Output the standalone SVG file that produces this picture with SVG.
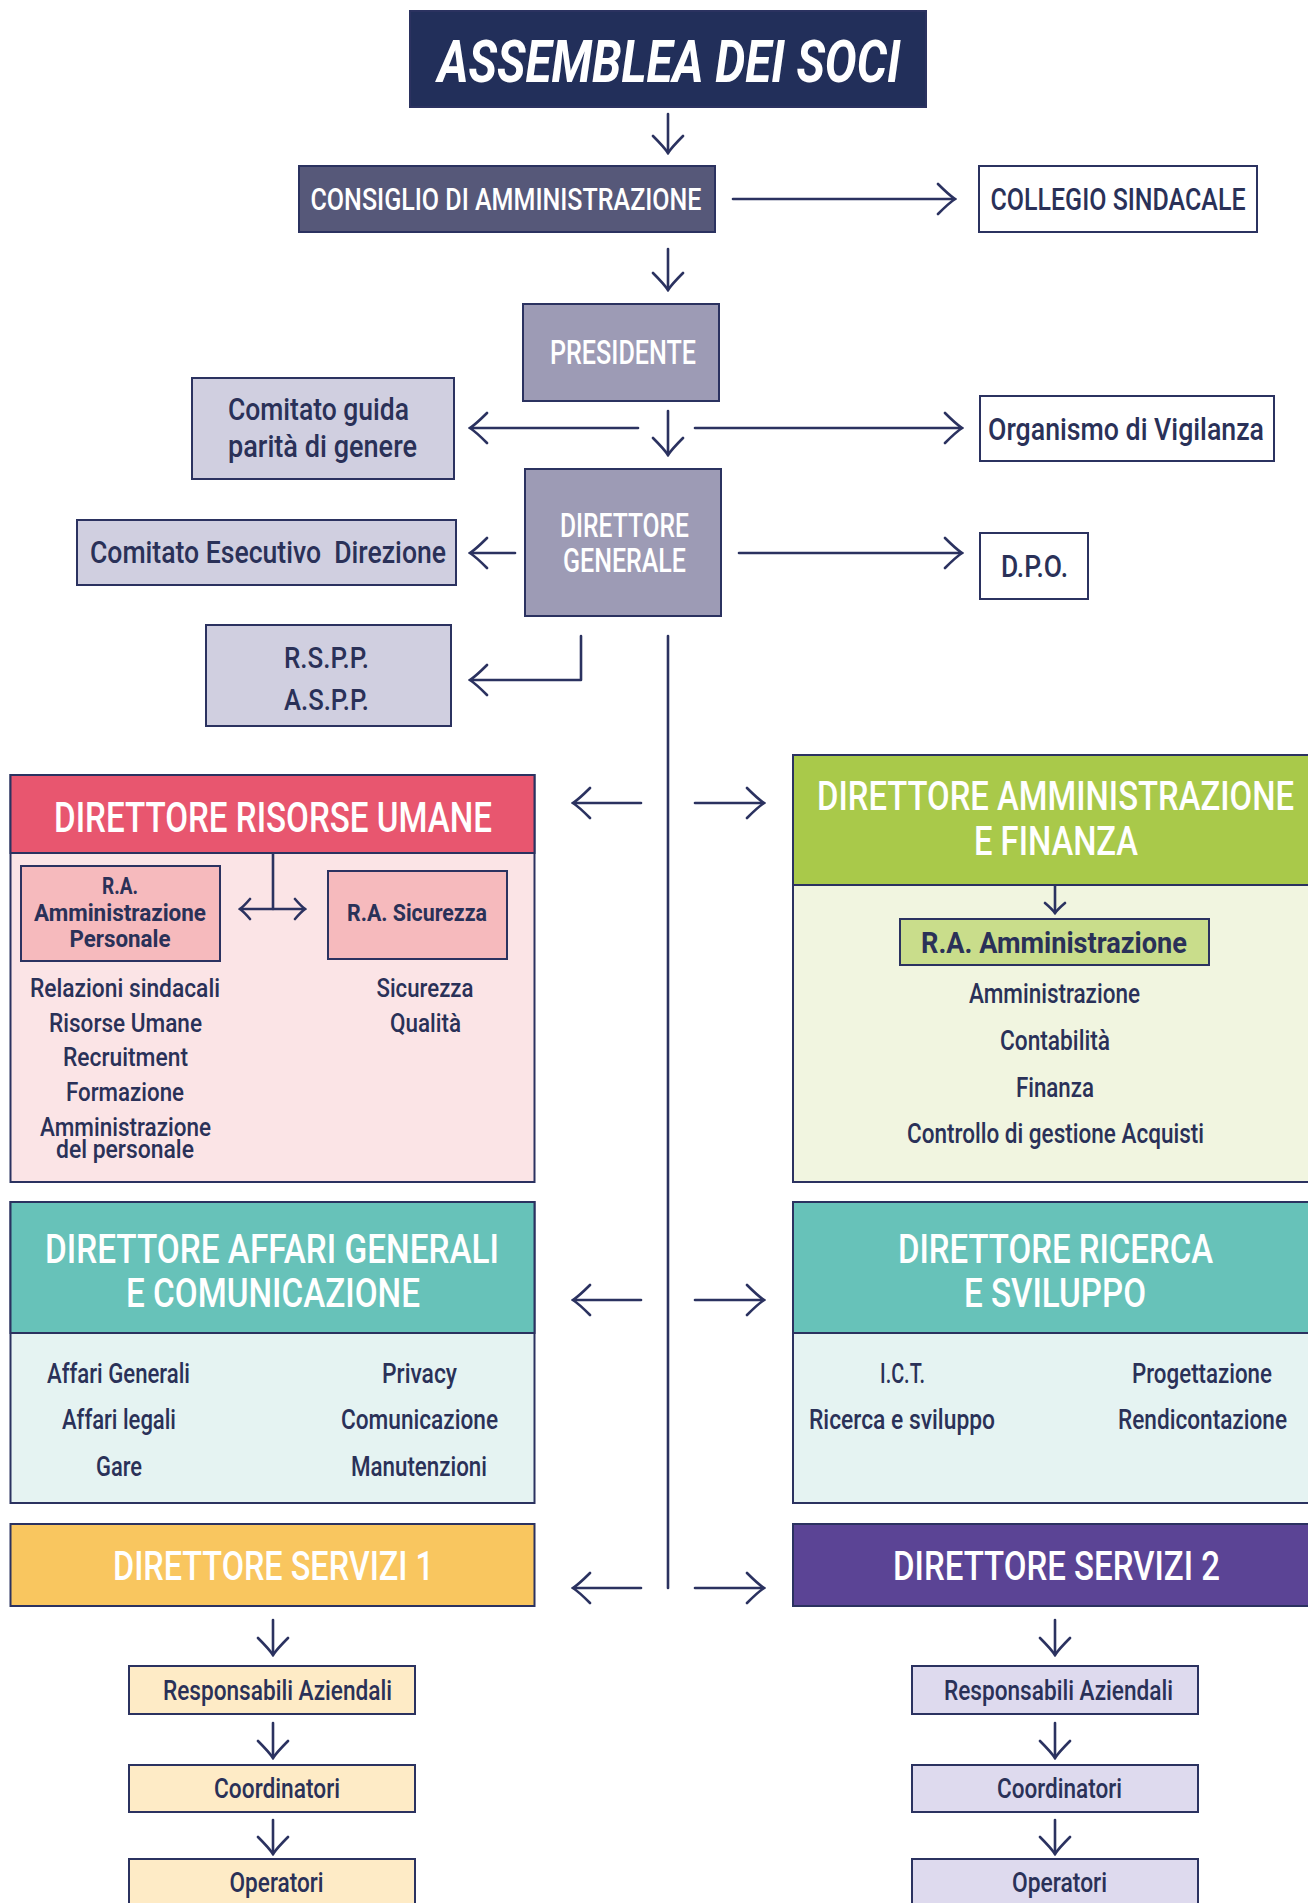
<svg xmlns="http://www.w3.org/2000/svg" width="1308" height="1903" viewBox="0 0 1308 1903">
<style>
.bx{stroke:#2b3260;stroke-width:2}
.t{font-family:Roboto,"Liberation Sans",sans-serif;font-weight:500;text-anchor:middle}
.w{fill:#ffffff}
.n{fill:#2a3158}
.b{font-weight:700}
.c{fill:none;stroke:#2b3260;stroke-width:2.6;stroke-linecap:round;stroke-linejoin:round}
</style>
<defs>
<marker id="ah" markerUnits="userSpaceOnUse" viewBox="-20 -18 22 36" refX="0" refY="0" markerWidth="22" markerHeight="36" orient="auto-start-reverse">
<path d="M-17,-15 Q-6,-4 0,0 Q-6,4 -17,15" fill="none" stroke="#2b3260" stroke-width="2.6" stroke-linecap="round"/>
</marker>
<marker id="as" markerUnits="userSpaceOnUse" viewBox="-13 -12 15 24" refX="0" refY="0" markerWidth="15" markerHeight="24" orient="auto-start-reverse">
<path d="M-10,-10 Q-4,-3 0,0 Q-4,3 -10,10" fill="none" stroke="#2b3260" stroke-width="2.6" stroke-linecap="round"/>
</marker>
</defs>
<rect width="1308" height="1903" fill="#ffffff"/>

<g id="assemblea">
<rect class="bx" x="410" y="11" width="516" height="96" fill="#222f5a"/>
<text class="t w b" x="669" y="82" font-size="59" font-style="italic" textLength="463" lengthAdjust="spacingAndGlyphs">ASSEMBLEA DEI SOCI</text>
</g>
<g id="consiglio">
<rect class="bx" x="299" y="166" width="416" height="66" fill="#565879"/>
<text class="t w" x="506" y="210" font-size="32" textLength="391" lengthAdjust="spacingAndGlyphs">CONSIGLIO DI AMMINISTRAZIONE</text>
</g>
<g id="collegio">
<rect class="bx" x="979" y="166" width="278" height="66" fill="#ffffff"/>
<text class="t n" x="1118" y="210" font-size="32" textLength="255" lengthAdjust="spacingAndGlyphs">COLLEGIO SINDACALE</text>
</g>
<g id="presidente">
<rect class="bx" x="523" y="304" width="196" height="97" fill="#9d9bb5"/>
<text class="t w" x="623" y="364" font-size="33" textLength="146" lengthAdjust="spacingAndGlyphs">PRESIDENTE</text>
</g>
<g id="comitato-guida">
<rect class="bx" x="192" y="378" width="262" height="101" fill="#d0cfe0"/>
<text class="t n" x="228" y="420" font-size="31" text-anchor="start" style="text-anchor:start" textLength="181" lengthAdjust="spacingAndGlyphs">Comitato guida</text>
<text class="t n" x="228" y="457" font-size="31" style="text-anchor:start" textLength="189" lengthAdjust="spacingAndGlyphs">parità di genere</text>
</g>
<g id="organismo">
<rect class="bx" x="980" y="396" width="294" height="65" fill="#ffffff"/>
<text class="t n" x="1126" y="440" font-size="31" textLength="276" lengthAdjust="spacingAndGlyphs">Organismo di Vigilanza</text>
</g>
<g id="direttore-generale">
<rect class="bx" x="525" y="469" width="196" height="147" fill="#9d9bb5"/>
<text class="t w" x="624.5" y="537" font-size="33" textLength="129" lengthAdjust="spacingAndGlyphs">DIRETTORE</text>
<text class="t w" x="624.5" y="572" font-size="33" textLength="123" lengthAdjust="spacingAndGlyphs">GENERALE</text>
</g>
<g id="comitato-esecutivo">
<rect class="bx" x="77" y="520" width="379" height="65" fill="#d0cfe0"/>
<text class="t n" x="268" y="563" font-size="31" textLength="356" lengthAdjust="spacingAndGlyphs" xml:space="preserve">Comitato Esecutivo  Direzione</text>
</g>
<g id="dpo">
<rect class="bx" x="980" y="533" width="108" height="66" fill="#ffffff"/>
<text class="t n" x="1034.5" y="577" font-size="32" textLength="67" lengthAdjust="spacingAndGlyphs">D.P.O.</text>
</g>
<g id="rspp">
<rect class="bx" x="206" y="625" width="245" height="101" fill="#d0cfe0"/>
<text class="t n" x="326.5" y="668" font-size="30" textLength="85" lengthAdjust="spacingAndGlyphs">R.S.P.P.</text>
<text class="t n" x="326.5" y="710" font-size="30" textLength="85" lengthAdjust="spacingAndGlyphs">A.S.P.P.</text>
</g>

<g id="dir-risorse-umane">
<rect class="bx" x="10.5" y="775" width="524" height="407" fill="#fbe4e6"/>
<rect class="bx" x="10.5" y="775" width="524" height="78" fill="#e8566f"/>
<text class="t w" x="273" y="832" font-size="42" textLength="438" lengthAdjust="spacingAndGlyphs">DIRETTORE RISORSE UMANE</text>
<rect class="bx" x="21" y="866" width="199" height="95" fill="#f6babd"/>
<text class="t n b" x="120" y="894" font-size="24" textLength="36" lengthAdjust="spacingAndGlyphs">R.A.</text>
<text class="t n b" x="120" y="921" font-size="24" textLength="172" lengthAdjust="spacingAndGlyphs">Amministrazione</text>
<text class="t n b" x="120" y="947" font-size="24" textLength="101" lengthAdjust="spacingAndGlyphs">Personale</text>
<rect class="bx" x="328" y="871" width="179" height="88" fill="#f6babd"/>
<text class="t n b" x="417" y="921" font-size="24" textLength="140" lengthAdjust="spacingAndGlyphs">R.A. Sicurezza</text>
<text class="t n" x="125" y="997" font-size="25" textLength="190" lengthAdjust="spacingAndGlyphs">Relazioni sindacali</text>
<text class="t n" x="125.5" y="1032" font-size="25" textLength="153" lengthAdjust="spacingAndGlyphs">Risorse Umane</text>
<text class="t n" x="125.5" y="1066" font-size="25" textLength="125" lengthAdjust="spacingAndGlyphs">Recruitment</text>
<text class="t n" x="125" y="1101" font-size="25" textLength="118" lengthAdjust="spacingAndGlyphs">Formazione</text>
<text class="t n" x="125.5" y="1136" font-size="25" textLength="171" lengthAdjust="spacingAndGlyphs">Amministrazione</text>
<text class="t n" x="125" y="1158" font-size="25" textLength="138" lengthAdjust="spacingAndGlyphs">del personale</text>
<text class="t n" x="425" y="997" font-size="25" textLength="97" lengthAdjust="spacingAndGlyphs">Sicurezza</text>
<text class="t n" x="425.5" y="1032" font-size="25" textLength="71" lengthAdjust="spacingAndGlyphs">Qualità</text>
</g>

<g id="dir-amministrazione-finanza">
<rect class="bx" x="793" y="755" width="530" height="427" fill="#f1f5e0"/>
<rect class="bx" x="793" y="755" width="530" height="130" fill="#a9c94a"/>
<text class="t w" x="1055.5" y="810" font-size="40" textLength="477" lengthAdjust="spacingAndGlyphs">DIRETTORE AMMINISTRAZIONE</text>
<text class="t w" x="1056" y="855" font-size="40" textLength="164" lengthAdjust="spacingAndGlyphs">E FINANZA</text>
<rect class="bx" x="900" y="919" width="309" height="46" fill="#c9dd8b"/>
<text class="t n b" x="1054" y="953" font-size="29" textLength="266" lengthAdjust="spacingAndGlyphs">R.A. Amministrazione</text>
<text class="t n" x="1054.5" y="1003" font-size="27" textLength="171" lengthAdjust="spacingAndGlyphs">Amministrazione</text>
<text class="t n" x="1055" y="1050" font-size="27" textLength="110" lengthAdjust="spacingAndGlyphs">Contabilità</text>
<text class="t n" x="1055" y="1097" font-size="27" textLength="78" lengthAdjust="spacingAndGlyphs">Finanza</text>
<text class="t n" x="1055.5" y="1143" font-size="27" textLength="297" lengthAdjust="spacingAndGlyphs">Controllo di gestione Acquisti</text>
</g>

<g id="dir-affari-generali">
<rect class="bx" x="10.5" y="1202" width="524" height="301" fill="#e5f3f2"/>
<rect class="bx" x="10.5" y="1202" width="524" height="131" fill="#67c2b9"/>
<text class="t w" x="272" y="1263" font-size="41" textLength="454" lengthAdjust="spacingAndGlyphs">DIRETTORE AFFARI GENERALI</text>
<text class="t w" x="273" y="1307" font-size="41" textLength="294" lengthAdjust="spacingAndGlyphs">E COMUNICAZIONE</text>
<text class="t n" x="118.5" y="1383" font-size="28" textLength="143" lengthAdjust="spacingAndGlyphs">Affari Generali</text>
<text class="t n" x="119" y="1429" font-size="28" textLength="114" lengthAdjust="spacingAndGlyphs">Affari legali</text>
<text class="t n" x="119" y="1476" font-size="28" textLength="46" lengthAdjust="spacingAndGlyphs">Gare</text>
<text class="t n" x="419.5" y="1383" font-size="28" textLength="75" lengthAdjust="spacingAndGlyphs">Privacy</text>
<text class="t n" x="419.5" y="1429" font-size="28" textLength="157" lengthAdjust="spacingAndGlyphs">Comunicazione</text>
<text class="t n" x="419" y="1476" font-size="28" textLength="136" lengthAdjust="spacingAndGlyphs">Manutenzioni</text>
</g>

<g id="dir-ricerca-sviluppo">
<rect class="bx" x="793" y="1202" width="530" height="301" fill="#e5f3f2"/>
<rect class="bx" x="793" y="1202" width="530" height="131" fill="#67c2b9"/>
<text class="t w" x="1055.5" y="1263" font-size="41" textLength="315" lengthAdjust="spacingAndGlyphs">DIRETTORE RICERCA</text>
<text class="t w" x="1055" y="1307" font-size="41" textLength="182" lengthAdjust="spacingAndGlyphs">E SVILUPPO</text>
<text class="t n" x="902.5" y="1383" font-size="28" textLength="45" lengthAdjust="spacingAndGlyphs">I.C.T.</text>
<text class="t n" x="902" y="1429" font-size="28" textLength="186" lengthAdjust="spacingAndGlyphs">Ricerca e sviluppo</text>
<text class="t n" x="1202" y="1383" font-size="28" textLength="140" lengthAdjust="spacingAndGlyphs">Progettazione</text>
<text class="t n" x="1202.5" y="1429" font-size="28" textLength="169" lengthAdjust="spacingAndGlyphs">Rendicontazione</text>
</g>

<g id="dir-servizi-1">
<rect class="bx" x="10.5" y="1524" width="524" height="82" fill="#f9c65f"/>
<text class="t w" x="273.5" y="1580" font-size="41" textLength="321" lengthAdjust="spacingAndGlyphs">DIRETTORE SERVIZI 1</text>
</g>
<g id="dir-servizi-2">
<rect class="bx" x="793" y="1524" width="530" height="82" fill="#5b4495"/>
<text class="t w" x="1056.5" y="1580" font-size="41" textLength="327" lengthAdjust="spacingAndGlyphs">DIRETTORE SERVIZI 2</text>
</g>

<g id="s1-responsabili">
<rect class="bx" x="129" y="1666" width="286" height="48" fill="#feebc6"/>
<text class="t n" x="277.5" y="1700" font-size="27" textLength="229" lengthAdjust="spacingAndGlyphs">Responsabili Aziendali</text>
</g>
<g id="s1-coordinatori">
<rect class="bx" x="129" y="1765" width="286" height="47" fill="#feebc6"/>
<text class="t n" x="277" y="1798" font-size="27" textLength="126" lengthAdjust="spacingAndGlyphs">Coordinatori</text>
</g>
<g id="s1-operatori">
<rect class="bx" x="129" y="1859" width="286" height="60" fill="#feebc6"/>
<text class="t n" x="276.5" y="1892" font-size="27" textLength="94" lengthAdjust="spacingAndGlyphs">Operatori</text>
</g>
<g id="s2-responsabili">
<rect class="bx" x="912" y="1666" width="286" height="48" fill="#dedaee"/>
<text class="t n" x="1058.5" y="1700" font-size="27" textLength="229" lengthAdjust="spacingAndGlyphs">Responsabili Aziendali</text>
</g>
<g id="s2-coordinatori">
<rect class="bx" x="912" y="1765" width="286" height="47" fill="#dedaee"/>
<text class="t n" x="1059.5" y="1798" font-size="27" textLength="125" lengthAdjust="spacingAndGlyphs">Coordinatori</text>
</g>
<g id="s2-operatori">
<rect class="bx" x="912" y="1859" width="286" height="60" fill="#dedaee"/>
<text class="t n" x="1059.5" y="1892" font-size="27" textLength="95" lengthAdjust="spacingAndGlyphs">Operatori</text>
</g>

<g id="connectors">
<path class="c" d="M668,114 V153" marker-end="url(#ah)"/>
<path class="c" d="M733,199 H955" marker-end="url(#ah)"/>
<path class="c" d="M668,249 V290" marker-end="url(#ah)"/>
<path class="c" d="M668,411 V455" marker-end="url(#ah)"/>
<path class="c" d="M638,428 H470" marker-end="url(#ah)"/>
<path class="c" d="M695,428 H962" marker-end="url(#ah)"/>
<path class="c" d="M515,553 H470" marker-end="url(#ah)"/>
<path class="c" d="M739,553 H962" marker-end="url(#ah)"/>
<path class="c" d="M581,636 V680 H470" marker-end="url(#ah)"/>
<path class="c" d="M668,636 V1588"/>
<path class="c" d="M641,803 H573" marker-end="url(#ah)"/>
<path class="c" d="M695,803 H764" marker-end="url(#ah)"/>
<path class="c" d="M641,1300 H573" marker-end="url(#ah)"/>
<path class="c" d="M695,1300 H764" marker-end="url(#ah)"/>
<path class="c" d="M641,1588 H573" marker-end="url(#ah)"/>
<path class="c" d="M695,1588 H764" marker-end="url(#ah)"/>
<path class="c" d="M273,854 V909"/>
<path class="c" d="M240,909 H305" marker-start="url(#as)" marker-end="url(#as)"/>
<path class="c" d="M1055,886 V913" marker-end="url(#as)"/>
<path class="c" d="M273,1620 V1655" marker-end="url(#ah)"/>
<path class="c" d="M273,1723 V1758" marker-end="url(#ah)"/>
<path class="c" d="M273,1820 V1854" marker-end="url(#ah)"/>
<path class="c" d="M1055,1620 V1655" marker-end="url(#ah)"/>
<path class="c" d="M1055,1723 V1758" marker-end="url(#ah)"/>
<path class="c" d="M1055,1820 V1854" marker-end="url(#ah)"/>
</g>
</svg>
